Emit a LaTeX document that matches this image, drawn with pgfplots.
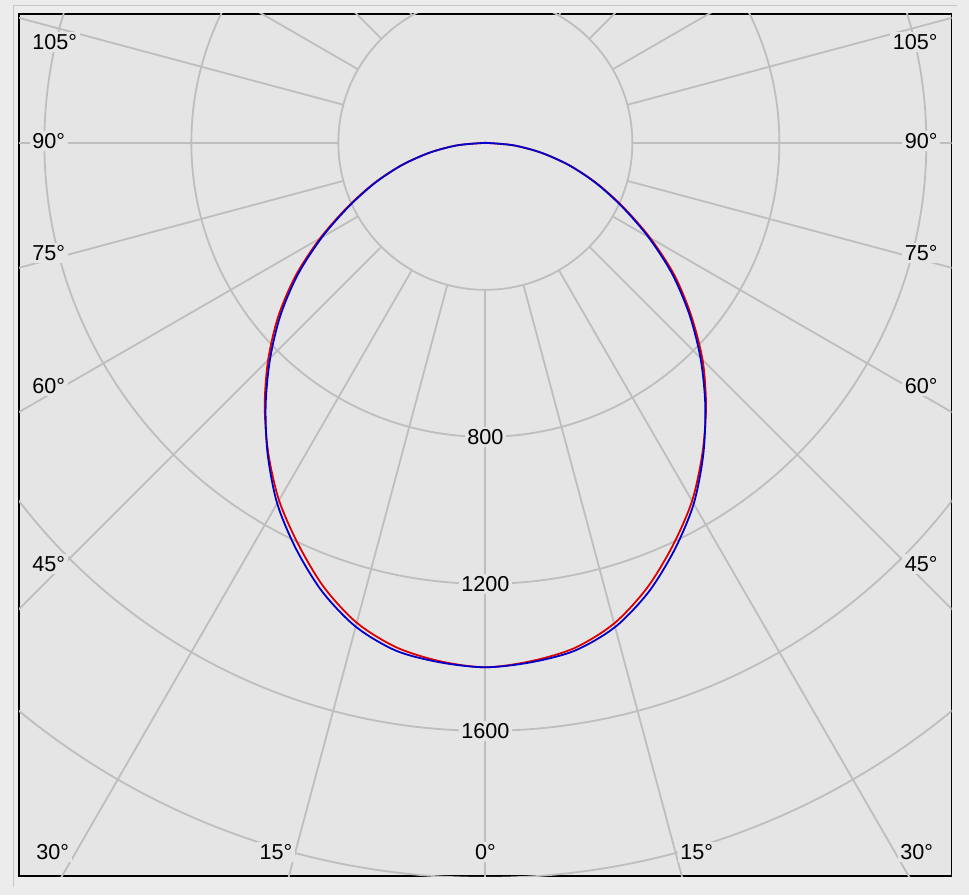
\documentclass[border=0pt]{standalone}
\usepackage{pgfplots}
\pgfplotsset{compat=1.18}
\usepackage{pgfplotstable}
\usepackage{fontspec}
\setmainfont{Liberation Sans}
\definecolor{outerbg}{HTML}{ECECEC}
\definecolor{innerbg}{HTML}{E5E5E5}
\definecolor{gridc}{HTML}{BEBEBE}
\definecolor{cred}{HTML}{DD0000}
\definecolor{cblue}{HTML}{0000CC}
\tikzset{lbl/.style={font=\fontsize{10.8}{12}\selectfont, fill=innerbg, inner sep=1.2pt, text=black}}

% angle from nadir (deg), intensity (cd) for two C-planes
\pgfplotstableread{
a   red   blue
-90 0     0
-85 76    76
-80 154   154
-75 237   236
-70 323   320
-65 414   410
-60 519   513
-55 630   622
-50 736   727
-45 836   828
-40 934   930
-35 1030  1033
-30 1123  1133
-25 1205  1219
-20 1286  1299
-15 1352  1363
-10 1394  1403
-5  1416  1419
0   1427  1427
5   1416  1419
10  1396  1403
15  1354  1364
20  1288  1300
25  1208  1220
30  1125  1134
35  1030  1034
40  934   931
45  836   828
50  731   724
55  628   620
60  518   512
65  414   410
70  323   320
75  237   236
80  154   154
85  76    76
90  0     0
}\lid

\begin{document}
\begin{tikzpicture}
\useasboundingbox (0,0) rectangle (484.5pt,447.5pt);
\fill[outerbg] (0,0) rectangle (484.5pt,447.5pt);
\draw[color=black!22, line width=0.5pt] (6.5pt,4pt) -- (6.5pt,444.5pt) -- (478.5pt,444.5pt);
\begin{axis}[
  at={(9.5pt,9.5pt)}, anchor=south west,
  x=0.18375pt, y=0.18375pt,
  xmin=-1269, xmax=1269, ymin=-1995, ymax=351,
  xtick=\empty, ytick=\empty,
  axis line style={black, line width=0.75pt},
  axis background/.style={fill=innerbg},
  clip=true,
]
% circles
\draw[gridc, line width=0.9pt] (axis cs:0,0) circle[radius=73.5pt];
\draw[gridc, line width=0.9pt] (axis cs:0,0) circle[radius=147pt];
\draw[gridc, line width=0.9pt] (axis cs:0,0) circle[radius=220.5pt];
\draw[gridc, line width=0.9pt] (axis cs:0,0) circle[radius=294pt];
\draw[gridc, line width=0.9pt] (axis cs:0,0) circle[radius=367.5pt];
\draw[gridc, line width=0.9pt] (axis cs:0,0) circle[radius=441pt];
% radial lines
\pgfplotsinvokeforeach{0,15,30,45,60,75,90,105,120,135,150,165,180}{
  \draw[gridc, line width=0.9pt] (axis cs:{400*sin(#1)},{-400*cos(#1)}) -- (axis cs:{3000*sin(#1)},{-3000*cos(#1)});
  \draw[gridc, line width=0.9pt] (axis cs:{-400*sin(#1)},{-400*cos(#1)}) -- (axis cs:{-3000*sin(#1)},{-3000*cos(#1)});
}
% labels
\node[lbl, anchor=west] at (axis cs:-1240,275) {105°};
\node[lbl, anchor=west] at (axis cs:-1240,5) {90°};
\node[lbl, anchor=west] at (axis cs:-1240,-299) {75°};
\node[lbl, anchor=west] at (axis cs:-1240,-661) {60°};
\node[lbl, anchor=west] at (axis cs:-1240,-1146) {45°};
\node[lbl, anchor=east] at (axis cs:1238,275) {105°};
\node[lbl, anchor=east] at (axis cs:1238,5) {90°};
\node[lbl, anchor=east] at (axis cs:1238,-299) {75°};
\node[lbl, anchor=east] at (axis cs:1238,-661) {60°};
\node[lbl, anchor=east] at (axis cs:1238,-1146) {45°};
\node[lbl] at (axis cs:-1177,-1929) {30°};
\node[lbl] at (axis cs:-570,-1929) {15°};
\node[lbl] at (axis cs:0,-1929) {0°};
\node[lbl] at (axis cs:575,-1929) {15°};
\node[lbl] at (axis cs:1174,-1929) {30°};
\node[lbl] at (axis cs:0,-800) {800};
\node[lbl] at (axis cs:0,-1200) {1200};
\node[lbl] at (axis cs:0,-1600) {1600};
% curves
\addplot[cred, line width=0.9pt, smooth] table[x expr={\thisrow{red}*sin(\thisrow{a})}, y expr={-\thisrow{red}*cos(\thisrow{a})}] {\lid};
\addplot[cblue, line width=0.9pt, smooth] table[x expr={\thisrow{blue}*sin(\thisrow{a})}, y expr={-\thisrow{blue}*cos(\thisrow{a})}] {\lid};
\end{axis}
\end{tikzpicture}
\end{document}
